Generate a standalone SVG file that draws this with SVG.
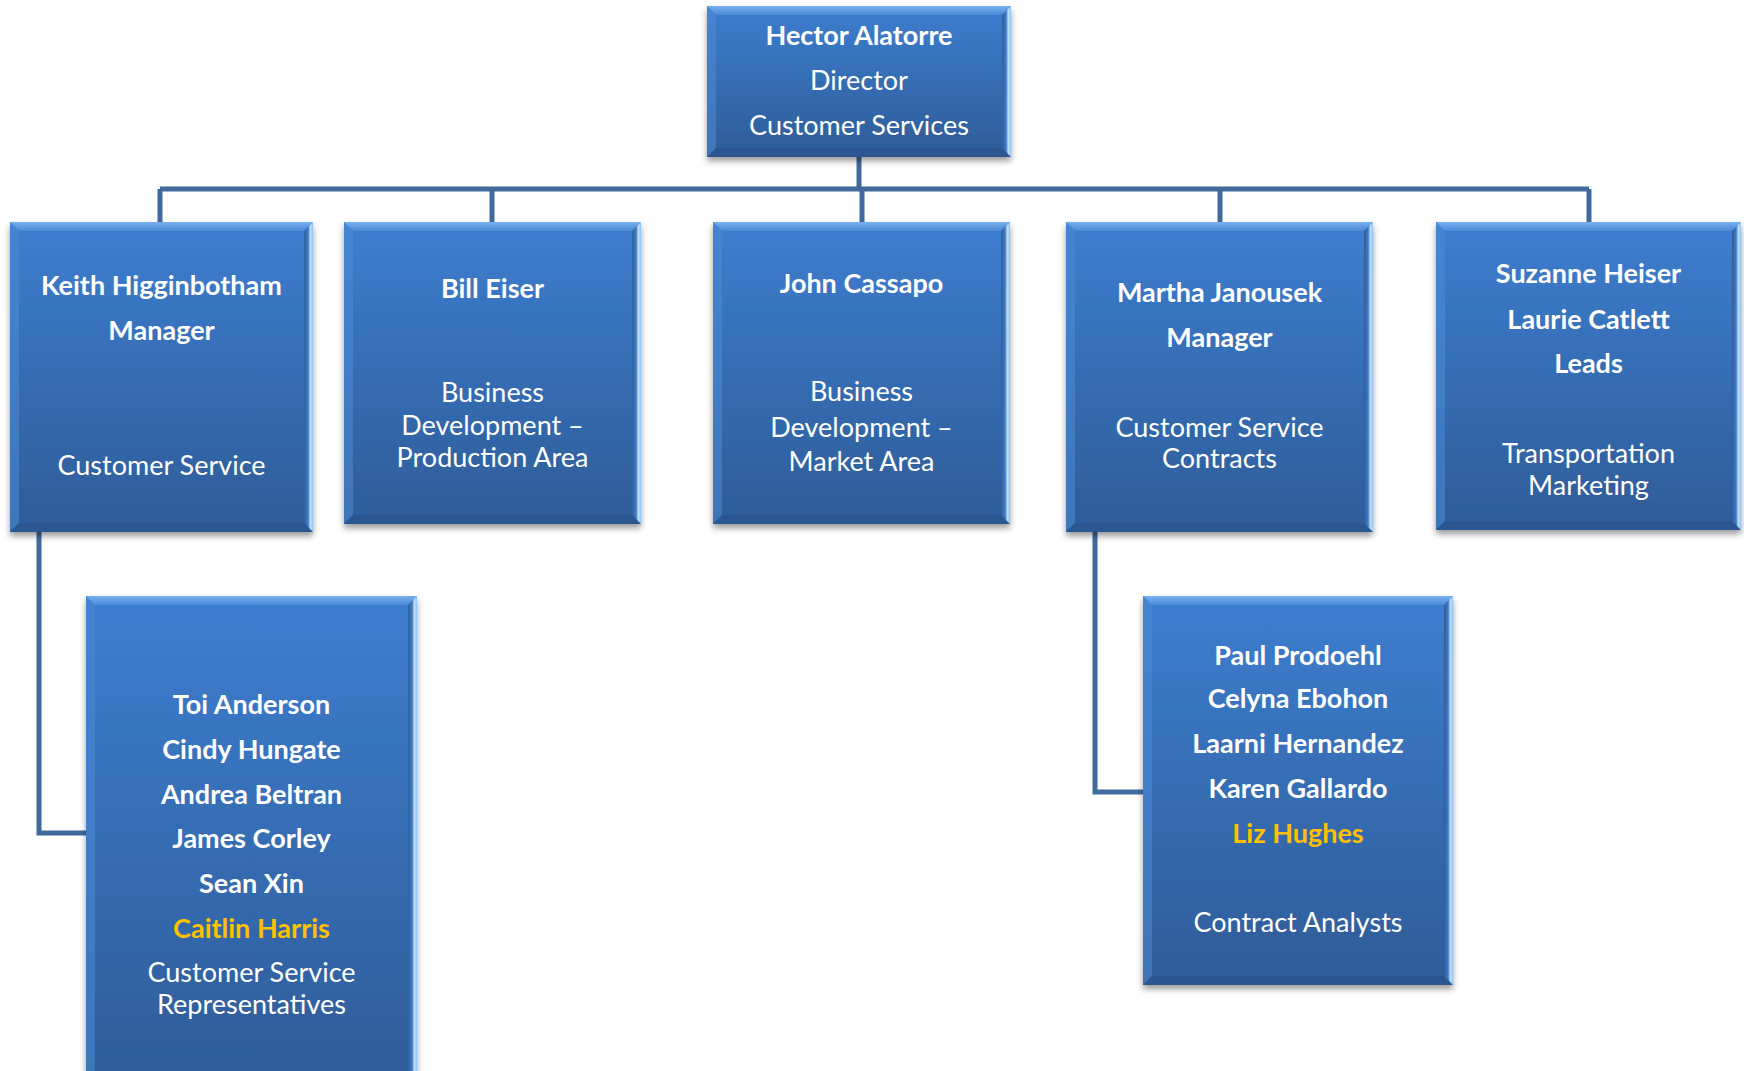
<svg xmlns="http://www.w3.org/2000/svg" width="1744" height="1071" viewBox="0 0 1744 1071">
<defs>
<linearGradient id="gFace" x1="0" y1="0" x2="0" y2="1">
<stop offset="0" stop-color="#3d7ed0"/>
<stop offset="1" stop-color="#2e5c97"/>
</linearGradient>
<linearGradient id="gTop" x1="0" y1="0" x2="0" y2="1">
<stop offset="0" stop-color="#77b0ee"/>
<stop offset="1" stop-color="#4a8ad9"/>
</linearGradient>
<linearGradient id="gRight" x1="0" y1="0" x2="1" y2="0">
<stop offset="0" stop-color="#2f60a0"/>
<stop offset="0.45" stop-color="#3f78c0"/>
<stop offset="0.7" stop-color="#bfe0ff"/>
<stop offset="1" stop-color="#8ec2f2"/>
</linearGradient>
<filter id="shadow" x="-10%" y="-10%" width="120%" height="125%">
<feDropShadow dx="0" dy="4" stdDeviation="3" flood-color="#000" flood-opacity="0.4"/>
</filter>
</defs>
<style>
.face{fill:url(#gFace);filter:url(#shadow)}
.bt{fill:url(#gTop)}
.bl{fill:#4c8ad6;opacity:0.55}
.bb{fill:#2b5690}
.br{fill:url(#gRight)}
text{font-family:Lato,"Liberation Sans",sans-serif;font-size:27px;fill:#fff;text-anchor:middle}
.b{font-weight:bold}
.o{fill:#ffc000}
.conn{fill:none;stroke:#41699c;stroke-width:5}
</style>
<g id="connectors">
<path class="conn" d="M859,157 V189"/>
<path class="conn" d="M160,189 H1589"/>
<path class="conn" d="M160,189 V222"/>
<path class="conn" d="M492,189 V222"/>
<path class="conn" d="M862,189 V222"/>
<path class="conn" d="M1220,189 V222"/>
<path class="conn" d="M1589,189 V222"/>
<path class="conn" d="M39,532 V833 H86"/>
<path class="conn" d="M1095,532 V792 H1143"/>
</g>
<g id="node-hector">
<rect class="face" x="707" y="6" width="304" height="151"/>
<polygon class="bt" points="707,6 1011,6 1002,15 716,15"/>
<polygon class="bl" points="707,6 716,15 716,148 707,157"/>
<polygon class="bb" points="707,157 716,148 1002,148 1011,157"/>
<polygon class="br" points="1011,6 1011,157 1002,148 1002,15"/>
<text class="b" x="859" y="45">Hector Alatorre</text>
<text x="859" y="90">Director</text>
<text x="859" y="135">Customer Services</text>
</g>
<g id="node-keith">
<rect class="face" x="10" y="222" width="303" height="310"/>
<polygon class="bt" points="10,222 313,222 304,231 19,231"/>
<polygon class="bl" points="10,222 19,231 19,523 10,532"/>
<polygon class="bb" points="10,532 19,523 304,523 313,532"/>
<polygon class="br" points="313,222 313,532 304,523 304,231"/>
<text class="b" x="161.5" y="295">Keith Higginbotham</text>
<text class="b" x="161.5" y="340">Manager</text>
<text x="161.5" y="475">Customer Service</text>
</g>
<g id="node-bill">
<rect class="face" x="344" y="222" width="297" height="302"/>
<polygon class="bt" points="344,222 641,222 632,231 353,231"/>
<polygon class="bl" points="344,222 353,231 353,515 344,524"/>
<polygon class="bb" points="344,524 353,515 632,515 641,524"/>
<polygon class="br" points="641,222 641,524 632,515 632,231"/>
<text class="b" x="492.5" y="298">Bill Eiser</text>
<text x="492.5" y="402">Business</text>
<text x="492.5" y="435">Development –</text>
<text x="492.5" y="467">Production Area</text>
</g>
<g id="node-john">
<rect class="face" x="713" y="222" width="297" height="302"/>
<polygon class="bt" points="713,222 1010,222 1001,231 722,231"/>
<polygon class="bl" points="713,222 722,231 722,515 713,524"/>
<polygon class="bb" points="713,524 722,515 1001,515 1010,524"/>
<polygon class="br" points="1010,222 1010,524 1001,515 1001,231"/>
<text class="b" x="861.5" y="293">John Cassapo</text>
<text x="861.5" y="401">Business</text>
<text x="861.5" y="437">Development –</text>
<text x="861.5" y="471">Market Area</text>
</g>
<g id="node-martha">
<rect class="face" x="1066" y="222" width="307" height="310"/>
<polygon class="bt" points="1066,222 1373,222 1364,231 1075,231"/>
<polygon class="bl" points="1066,222 1075,231 1075,523 1066,532"/>
<polygon class="bb" points="1066,532 1075,523 1364,523 1373,532"/>
<polygon class="br" points="1373,222 1373,532 1364,523 1364,231"/>
<text class="b" x="1219.5" y="302">Martha Janousek</text>
<text class="b" x="1219.5" y="347">Manager</text>
<text x="1219.5" y="437">Customer Service</text>
<text x="1219.5" y="468">Contracts</text>
</g>
<g id="node-suzanne">
<rect class="face" x="1436" y="222" width="305" height="308"/>
<polygon class="bt" points="1436,222 1741,222 1732,231 1445,231"/>
<polygon class="bl" points="1436,222 1445,231 1445,521 1436,530"/>
<polygon class="bb" points="1436,530 1445,521 1732,521 1741,530"/>
<polygon class="br" points="1741,222 1741,530 1732,521 1732,231"/>
<text class="b" x="1588.5" y="283">Suzanne Heiser</text>
<text class="b" x="1588.5" y="329">Laurie Catlett</text>
<text class="b" x="1588.5" y="373">Leads</text>
<text x="1588.5" y="463">Transportation</text>
<text x="1588.5" y="495">Marketing</text>
</g>
<g id="node-csr">
<rect class="face" x="86" y="596" width="331" height="490"/>
<polygon class="bt" points="86,596 417,596 408,605 95,605"/>
<polygon class="bl" points="86,596 95,605 95,1077 86,1086"/>
<polygon class="bb" points="86,1086 95,1077 408,1077 417,1086"/>
<polygon class="br" points="417,596 417,1086 408,1077 408,605"/>
<text class="b" x="251.5" y="714">Toi Anderson</text>
<text class="b" x="251.5" y="759">Cindy Hungate</text>
<text class="b" x="251.5" y="804">Andrea Beltran</text>
<text class="b" x="251.5" y="848">James Corley</text>
<text class="b" x="251.5" y="893">Sean Xin</text>
<text class="b o" x="251.5" y="938">Caitlin Harris</text>
<text x="251.5" y="982">Customer Service</text>
<text x="251.5" y="1014">Representatives</text>
</g>
<g id="node-analysts">
<rect class="face" x="1143" y="596" width="310" height="389"/>
<polygon class="bt" points="1143,596 1453,596 1444,605 1152,605"/>
<polygon class="bl" points="1143,596 1152,605 1152,976 1143,985"/>
<polygon class="bb" points="1143,985 1152,976 1444,976 1453,985"/>
<polygon class="br" points="1453,596 1453,985 1444,976 1444,605"/>
<text class="b" x="1298" y="665">Paul Prodoehl</text>
<text class="b" x="1298" y="708">Celyna Ebohon</text>
<text class="b" x="1298" y="753">Laarni Hernandez</text>
<text class="b" x="1298" y="798">Karen Gallardo</text>
<text class="b o" x="1298" y="843">Liz Hughes</text>
<text x="1298" y="932">Contract Analysts</text>
</g>
</svg>
